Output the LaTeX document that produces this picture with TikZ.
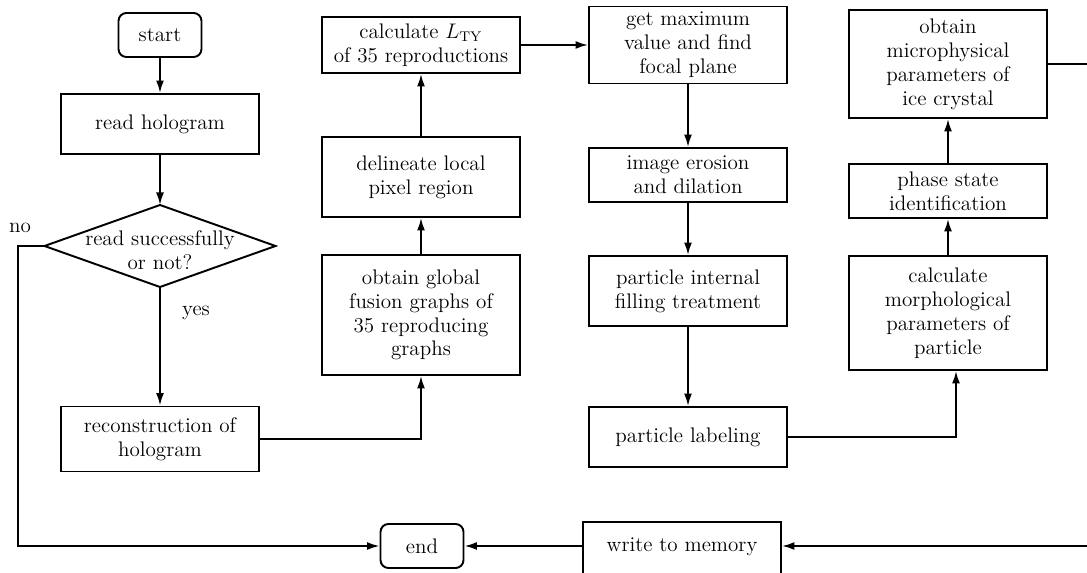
\documentclass[tikz,border=0pt]{standalone}
\usepackage{amsmath,amssymb}
\usepackage{xcolor}
\usepackage{tikz}
\usetikzlibrary{shapes,arrows,arrows.meta,positioning}

\begin{document}
\begin{tikzpicture}[
    x=0.02cm, y=-0.02cm,
    box/.style={rectangle, draw, line width=1.1pt, minimum width=3.96cm, align=center, inner sep=2pt, font=\fontsize{12}{13.6}\selectfont},
    term/.style={box, rounded corners=4.5pt, minimum width=1.66cm, minimum height=0.88cm},
    plain/.style={font=\fontsize{12}{13.6}\selectfont, align=center, inner sep=0pt},
    edge/.style={-{Latex[length=2.5mm,width=1.6mm]}, line width=1.1pt}
]
    \clip (0,0) rectangle (1087,573);

    % left column
    \node[term] (start) at (160,35) {start};
    \node[box, minimum height=1.2cm] (read) at (160,124) {read hologram};
    \node[plain] (dec) at (160,250) {read successfully\\or not?};
    \coordinate (dl) at (44.5,246);
    \coordinate (dr) at (275.5,246);
    \coordinate (dt) at (160,205);
    \coordinate (db) at (160,287);
    \draw[line width=1.1pt] (dl) -- (dt) -- (dr) -- (db) -- cycle;
    \node[box, minimum height=1.3cm] (recon) at (160,439) {reconstruction of\\hologram};
    \node[plain] (no) at (20,228) {no};
    \node[plain] (yes) at (196,313) {yes};

    % second column
    \node[box, minimum height=2.4cm] (fusion) at (421,315) {obtain global\\fusion graphs of\\35 reproducing\\graphs};
    \node[box, minimum height=1.6cm] (region) at (421,177) {delineate local\\pixel region};
    \node[box, minimum height=1.12cm] (ltv) at (421,45) {calculate $L_{\mathrm{TY}}$\\of 35 reproductions};

    % middle column
    \node[box, minimum height=1.54cm] (focal) at (688,45) {get maximum\\value and find\\focal plane};
    \node[box, minimum height=1.08cm] (erode) at (688,175) {image erosion\\and dilation};
    \node[box, minimum height=1.4cm] (fill) at (688,291) {particle internal\\filling treatment};
    \node[box, minimum height=1.2cm] (label) at (688,437) {particle labeling};
    \node[box, anchor=north, inner ysep=0pt, text height=0.6cm, text depth=1cm] (mem) at (682,521) {write to memory};
    \node[term] (stop) at (422,546) {end};

    % right column
    \node[box, minimum height=2.28cm] (morph) at (948,313) {calculate\\morphological\\parameters of\\particle};
    \node[box, minimum height=1.08cm] (phase) at (948,191) {phase state\\identification};
    \node[box, minimum height=2.16cm] (micro) at (948,64) {obtain\\microphysical\\parameters of\\ice crystal};

    \coordinate (lft) at (18,0);
    \coordinate (rgt) at (1095,0);

    \draw[edge] (start) -- (read);
    \draw[edge] (read) -- (dt);
    \draw[edge] (db) -- (recon);
    \draw[edge] (dl) -- (dl -| lft) |- (stop.west);
    \draw[edge] (recon.east) -| (fusion.south);
    \draw[edge] (fusion) -- (region);
    \draw[edge] (region) -- (ltv);
    \draw[edge] (ltv) -- (focal);
    \draw[edge] (focal) -- (erode);
    \draw[edge] (erode) -- (fill);
    \draw[edge] (fill) -- (label);
    \draw[edge] (label.east) -| ([xshift=0.16cm]morph.south);
    \draw[edge] (morph) -- (phase);
    \draw[edge] (phase) -- (micro);
    \draw[edge] (micro.east) -- (micro.east -| rgt) |- (stop -| mem.east);
    \draw[edge] (stop -| mem.west) -- (stop.east);
\end{tikzpicture}
\end{document}
